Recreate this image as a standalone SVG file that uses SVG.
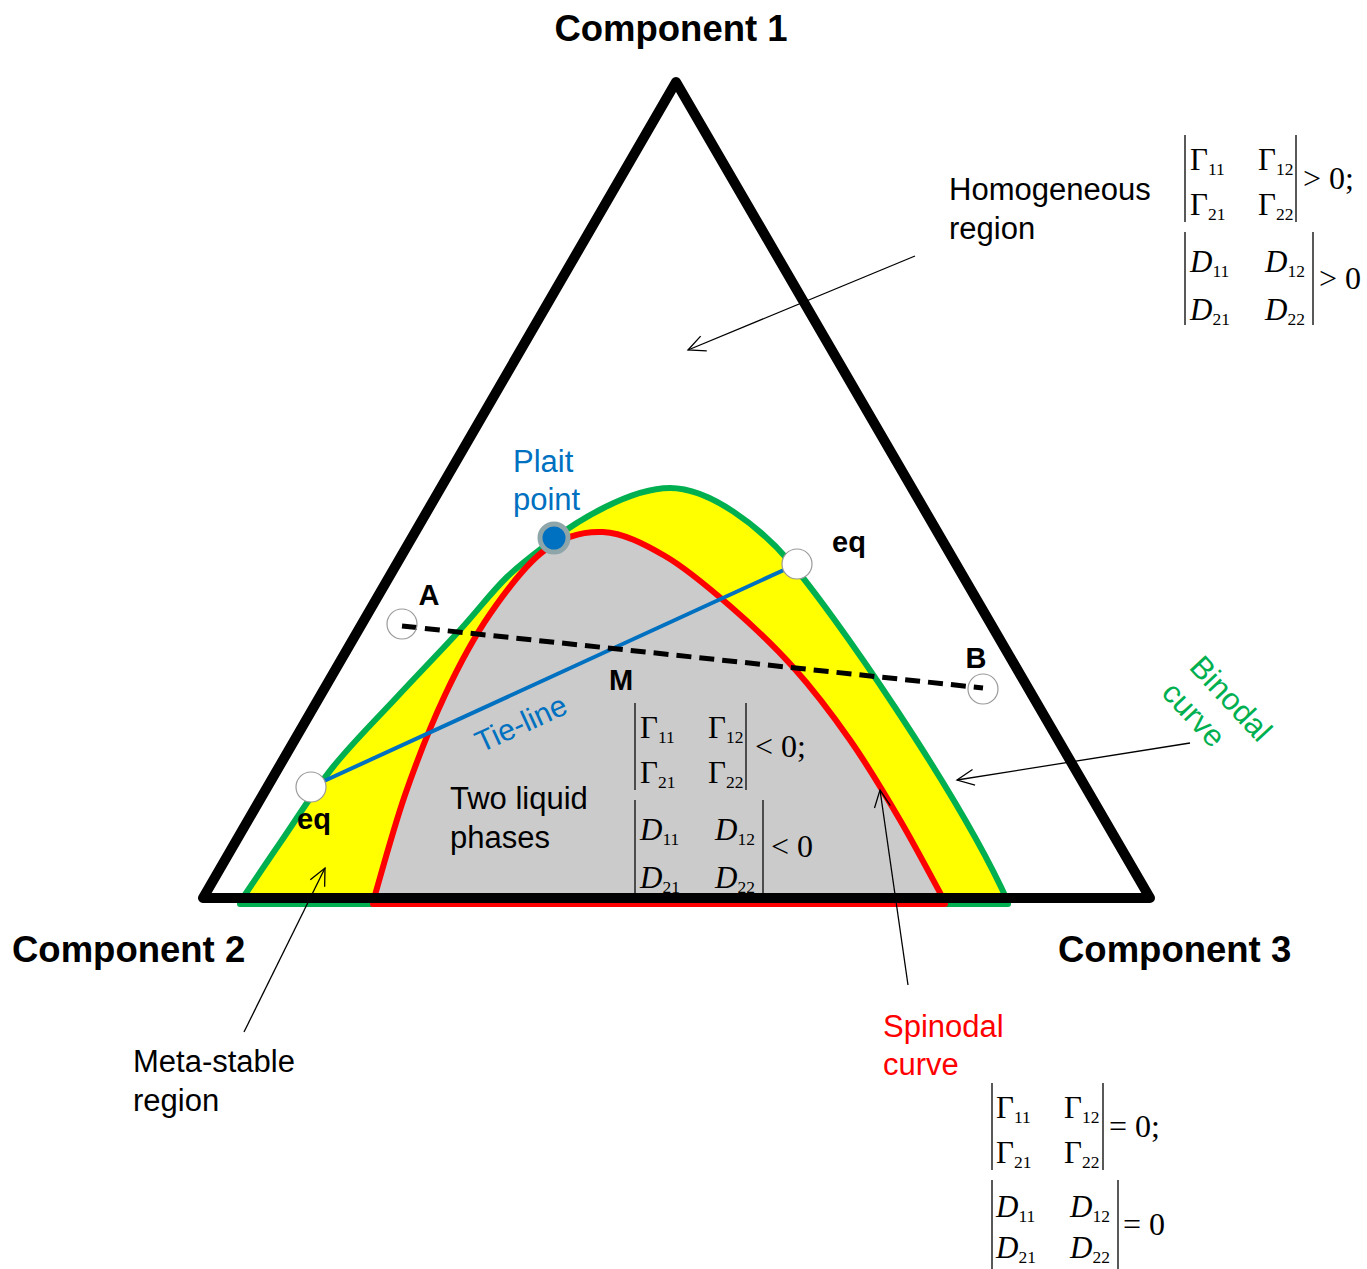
<svg xmlns="http://www.w3.org/2000/svg" width="1367" height="1269" viewBox="0 0 1367 1269">
<style>
.lbl{font-family:"Liberation Sans",Arial,sans-serif;font-size:31px;fill:#000}
.bold{font-family:"Liberation Sans",Arial,sans-serif;font-weight:bold;fill:#000}
.comp{font-size:36.5px}
.pt{font-size:29px}
.m{font-family:"Liberation Serif","Times New Roman",serif;font-size:31px;fill:#000}
.rel{font-family:"Liberation Serif","Times New Roman",serif;font-size:32px;fill:#000}
.it{font-style:italic}
.sub{font-size:17.5px;font-style:normal}
.bar{stroke:#222;stroke-width:1.5}
.arr{stroke:#000;stroke-width:1.3;fill:none;marker-end:url(#open)}
.ring{fill:none;stroke:#9a9a9a;stroke-width:1.2}
.eqc{fill:#fff;stroke:#9a9a9a;stroke-width:1.2}
</style>
<defs>
<marker id="open" viewBox="-20 -12 24 24" refX="0" refY="0" markerWidth="24" markerHeight="24" markerUnits="userSpaceOnUse" orient="auto">
<path d="M-17,-8 L0,0 L-17,8" fill="none" stroke="#000" stroke-width="1.3"/>
</marker>
</defs>
<rect width="1367" height="1269" fill="#fff"/>

<g id="binodal-region">
<path d="M240,904 L240,902 C246.7,892.2 264.5,865.5 280,843 C295.5,820.5 313.5,791.3 333,767 C352.5,742.7 375.8,719.8 397,697 C418.2,674.2 441.7,650 460,630 C478.3,610 491.2,592.3 507,577 C522.8,561.7 547,544.5 555,538 C576,522 630,488 670,488 C710,488 760,527 790,562 C830,608 958.5,792 1008,902 L1008,904 Z" fill="#ffff00" stroke="#00b050" stroke-width="6" stroke-linejoin="round"/>
</g>
<g id="spinodal-region">
<path d="M373,904 L373,902 C378.3,884.2 393,829.5 405,795 C417,760.5 430.8,725.2 445,695 C459.2,664.8 473.3,638.2 490,614 C506.7,589.8 526.2,563.7 545,550 C563.8,536.3 583,531 603,532 C623,533 643.8,543.7 665,556 C686.2,568.3 708.7,587.5 730,606 C751.3,624.5 773,644.7 793,667 C813,689.3 832.2,714.5 850,740 C867.8,765.5 884.2,793 900,820 C915.8,847 937.5,888.3 945,902 L945,904 Z" fill="#cbcbcb" stroke="#ff0000" stroke-width="6" stroke-linejoin="round"/>
</g>

<g id="triangle">
<polygon points="676,82 203,898 1150,898" fill="none" stroke="#000" stroke-width="10" stroke-linejoin="round"/>
</g>

<g id="connectors">
<line x1="311" y1="787" x2="797" y2="564" stroke="#0070c0" stroke-width="4"/>
<line x1="402" y1="626" x2="983" y2="688" stroke="#000" stroke-width="5" stroke-dasharray="15,8"/>
<line class="arr" x1="915" y1="256" x2="688" y2="350"/>
<line class="arr" x1="1190" y1="743" x2="957" y2="780"/>
<line class="arr" x1="908" y1="985" x2="880" y2="790"/>
<line class="arr" x1="244" y1="1032" x2="325" y2="868"/>
</g>

<g id="pointA"><circle class="ring" cx="402" cy="624" r="15"/><text class="bold pt" x="429" y="605" text-anchor="middle">A</text></g>
<g id="pointB"><circle class="ring" cx="983" cy="689" r="15"/><text class="bold pt" x="976" y="668" text-anchor="middle">B</text></g>
<g id="eq-left"><circle class="eqc" cx="311" cy="787" r="15"/><text class="bold pt" x="297" y="829">eq</text></g>
<g id="eq-right"><circle class="eqc" cx="797" cy="564" r="15"/><text class="bold pt" x="832" y="552">eq</text></g>
<g id="pointM"><text class="bold pt" x="621" y="690" text-anchor="middle">M</text></g>
<g id="plait-point"><circle cx="554" cy="538" r="14" fill="#0070c0" stroke="#8ea5aa" stroke-width="5"/>
<text class="lbl" x="513" y="472" style="fill:#0070c0">Plait</text><text class="lbl" x="513" y="510" style="fill:#0070c0">point</text></g>

<g id="labels">
<text class="bold comp" x="671" y="41" text-anchor="middle">Component 1</text>
<text class="bold comp" x="12" y="962">Component 2</text>
<text class="bold comp" x="1058" y="962">Component 3</text>
<text class="lbl" x="949" y="200">Homogeneous</text><text class="lbl" x="949" y="239">region</text>
<text class="lbl" x="450" y="809">Two liquid</text><text class="lbl" x="450" y="848">phases</text>
<text class="lbl" x="133" y="1072">Meta-stable</text><text class="lbl" x="133" y="1111">region</text>
<text class="lbl" x="883" y="1037" style="fill:#ff0000">Spinodal</text><text class="lbl" x="883" y="1075" style="fill:#ff0000">curve</text>
<g transform="translate(1188,668) rotate(47)"><text class="lbl" x="0" y="0" style="fill:#00b050">Binodal</text><text class="lbl" x="0" y="38" style="fill:#00b050">curve</text></g>
<text class="lbl" transform="translate(481,753) rotate(-24.6)" x="0" y="0" style="fill:#0070c0;font-size:30px">Tie-line</text>
</g>

<g id="det-top" transform="translate(1185,135)">
<line class="bar" x1="0" y1="0" x2="0" y2="87"/><line class="bar" x1="111" y1="0" x2="111" y2="87"/>
<text class="m" x="5" y="35">Γ<tspan class="sub" dy="5">11</tspan></text>
<text class="m" x="73" y="35">Γ<tspan class="sub" dy="5">12</tspan></text>
<text class="m" x="5" y="80">Γ<tspan class="sub" dy="5">21</tspan></text>
<text class="m" x="73" y="80">Γ<tspan class="sub" dy="5">22</tspan></text>
<text class="rel" x="118" y="54">&gt; 0;</text>
<line class="bar" x1="0" y1="97" x2="0" y2="190"/><line class="bar" x1="128" y1="97" x2="128" y2="190"/>
<text class="m it" x="5" y="137">D<tspan class="sub" dy="5">11</tspan></text>
<text class="m it" x="80" y="137">D<tspan class="sub" dy="5">12</tspan></text>
<text class="m it" x="5" y="185">D<tspan class="sub" dy="5">21</tspan></text>
<text class="m it" x="80" y="185">D<tspan class="sub" dy="5">22</tspan></text>
<text class="rel" x="134" y="154">&gt; 0</text>
</g>

<g id="det-mid" transform="translate(635,703)">
<line class="bar" x1="0" y1="0" x2="0" y2="87"/><line class="bar" x1="111" y1="0" x2="111" y2="87"/>
<text class="m" x="5" y="35">Γ<tspan class="sub" dy="5">11</tspan></text>
<text class="m" x="73" y="35">Γ<tspan class="sub" dy="5">12</tspan></text>
<text class="m" x="5" y="80">Γ<tspan class="sub" dy="5">21</tspan></text>
<text class="m" x="73" y="80">Γ<tspan class="sub" dy="5">22</tspan></text>
<text class="rel" x="120" y="54">&lt; 0;</text>
<line class="bar" x1="0" y1="97" x2="0" y2="190"/><line class="bar" x1="128" y1="97" x2="128" y2="190"/>
<text class="m it" x="5" y="137">D<tspan class="sub" dy="5">11</tspan></text>
<text class="m it" x="80" y="137">D<tspan class="sub" dy="5">12</tspan></text>
<text class="m it" x="5" y="185">D<tspan class="sub" dy="5">21</tspan></text>
<text class="m it" x="80" y="185">D<tspan class="sub" dy="5">22</tspan></text>
<text class="rel" x="136" y="154">&lt; 0</text>
</g>

<g id="det-bottom" transform="translate(992,1083)">
<line class="bar" x1="0" y1="0" x2="0" y2="87"/><line class="bar" x1="111" y1="0" x2="111" y2="87"/>
<text class="m" x="4" y="35">Γ<tspan class="sub" dy="5">11</tspan></text>
<text class="m" x="72" y="35">Γ<tspan class="sub" dy="5">12</tspan></text>
<text class="m" x="4" y="80">Γ<tspan class="sub" dy="5">21</tspan></text>
<text class="m" x="72" y="80">Γ<tspan class="sub" dy="5">22</tspan></text>
<text class="rel" x="117" y="54">= 0;</text>
<line class="bar" x1="0" y1="97" x2="0" y2="186"/><line class="bar" x1="126" y1="97" x2="126" y2="186"/>
<text class="m it" x="4" y="134">D<tspan class="sub" dy="5">11</tspan></text>
<text class="m it" x="78" y="134">D<tspan class="sub" dy="5">12</tspan></text>
<text class="m it" x="4" y="175">D<tspan class="sub" dy="5">21</tspan></text>
<text class="m it" x="78" y="175">D<tspan class="sub" dy="5">22</tspan></text>
<text class="rel" x="131" y="152">= 0</text>
</g>
</svg>
